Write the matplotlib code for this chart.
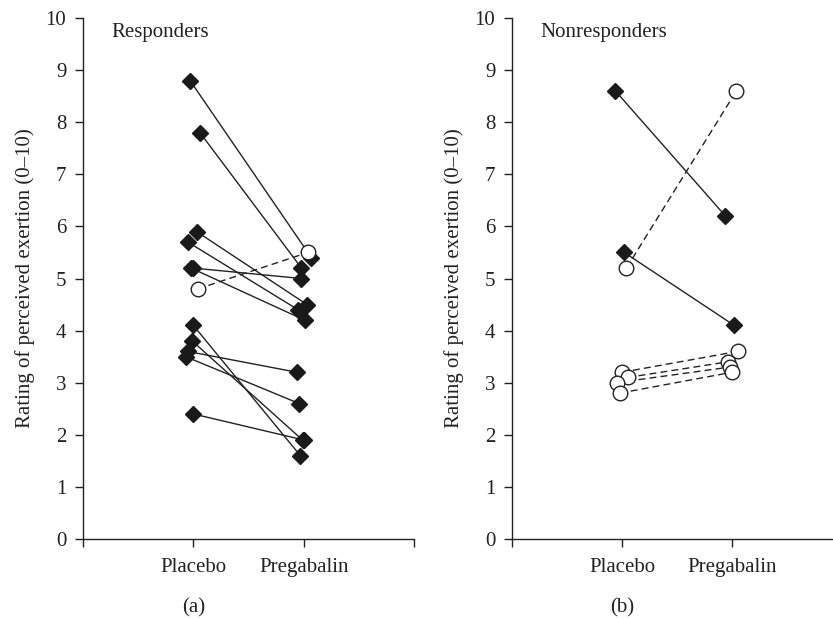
import matplotlib
matplotlib.use('Agg')
import matplotlib.pyplot as plt
import matplotlib.transforms as mtransforms

plt.rcParams['font.family'] = ['Liberation Serif', 'DejaVu Serif']

# group labels on the x axis
groups = ['Placebo', 'Pregabalin']

# responders, filled diamonds (placebo -> pregabalin)
resp_placebo = [8.8, 7.8, 5.9, 5.7, 5.2, 5.2, 4.1, 3.8, 3.6, 3.5, 2.4]
resp_pregab = [5.4, 5.2, 4.5, 4.4, 5.0, 4.2, 1.6, 1.9, 3.2, 2.6, 1.9]
resp_jit_pl = [-0.03, 0.06, 0.03, -0.05, 0.0, -0.02, 0.0, -0.01, -0.05, -0.07, 0.0]
resp_jit_pg = [0.07, -0.02, 0.03, -0.05, -0.02, 0.01, -0.03, -0.01, -0.06, -0.04, 0.0]
# responders, open circles
resp_open_pl = [4.8]
resp_open_pg = [5.5]
resp_open_jit_pl = [0.04]
resp_open_jit_pg = [0.04]

# nonresponders, filled diamonds
non_placebo = [8.6, 5.5]
non_pregab = [6.2, 4.1]
non_jit_pl = [-0.06, 0.02]
non_jit_pg = [-0.06, 0.02]
# nonresponders, open circles
non_open_pl = [5.2, 3.2, 3.1, 3.0, 2.8]
non_open_pg = [8.6, 3.6, 3.4, 3.3, 3.2]
non_open_jit_pl = [0.04, 0.0, 0.05, -0.05, -0.02]
non_open_jit_pg = [0.04, 0.05, -0.04, -0.02, 0.0]

FS = 15

fig = plt.figure(figsize=(8.33, 6.18), dpi=100)
ax_a = fig.add_axes([83/833, 79/618, 331/833, 521/618])
ax_b = fig.add_axes([512/833, 79/618, 330/833, 521/618])


def draw_pairs(ax, pl, pg, jpl, jpg, filled):
    for a, b, ja, jb in zip(pl, pg, jpl, jpg):
        if filled:
            ax.plot([1 + ja, 2 + jb], [a, b], '-', color='#222222', lw=1.0, zorder=2)
        else:
            ax.plot([1 + ja, 2 + jb], [a, b], '--', color='#222222', lw=1.0,
                    dashes=(5, 3), zorder=2)
    xs = [1 + j for j in jpl] + [2 + j for j in jpg]
    ys = list(pl) + list(pg)
    if filled:
        ax.plot(xs, ys, 'D', ms=8.5, mfc='#1a1a1a', mec='#1a1a1a', ls='none', zorder=3)
    else:
        ax.plot(xs, ys, 'o', ms=10.5, mfc='white', mec='#222222', mew=1.0,
                ls='none', zorder=4)


draw_pairs(ax_a, resp_placebo, resp_pregab, resp_jit_pl, resp_jit_pg, True)
draw_pairs(ax_a, resp_open_pl, resp_open_pg, resp_open_jit_pl, resp_open_jit_pg, False)
draw_pairs(ax_b, non_placebo, non_pregab, non_jit_pl, non_jit_pg, True)
draw_pairs(ax_b, non_open_pl, non_open_pg, non_open_jit_pl, non_open_jit_pg, False)

for ax, title, tag in [(ax_a, 'Responders', '(a)'), (ax_b, 'Nonresponders', '(b)')]:
    ax.set_xlim(0, 3)
    ax.set_ylim(0, 10)
    ax.spines['top'].set_visible(False)
    ax.spines['right'].set_visible(False)
    for s in ['left', 'bottom']:
        ax.spines[s].set_linewidth(1.0)
        ax.spines[s].set_color('#222222')
    ax.spines['left'].set_clip_on(False)
    ax.spines['bottom'].set_clip_on(False)
    ax.set_xticks([0, 1, 2, 3])
    ax.set_xticklabels(['', groups[0], groups[1], ''])
    ax.set_yticks(range(0, 11))
    ax.tick_params(direction='out', length=6, width=1.0, color='#222222',
                   labelsize=FS, labelcolor='#222222')
    ax.tick_params(axis='y', pad=6)
    ax.tick_params(axis='x', pad=8)
    ax.set_ylabel('Rating of perceived exertion (0–10)', fontsize=FS, color='#222222')
    ax.yaxis.set_label_coords(-0.145, 0.5)
    ax.text(0.26, 9.73, title, fontsize=FS, color='#222222', va='center')
    trans = mtransforms.blended_transform_factory(ax.transData, ax.transAxes)
    ax.text(1, -0.132, tag, transform=trans, fontsize=FS, color='#222222',
            ha='center', va='center')

fig.savefig('out.png', dpi=100)
